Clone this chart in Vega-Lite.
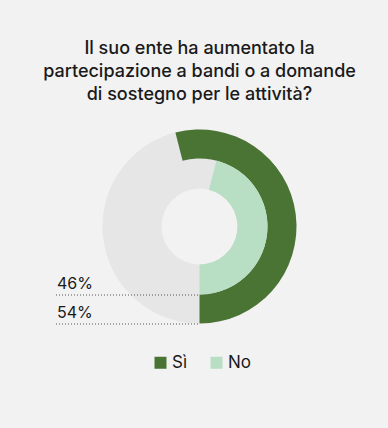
{
  "$schema": "https://vega.github.io/schema/vega-lite/v6.json",
  "autosize": "none",
  "width": 377,
  "height": 213,
  "padding": {"left": 11, "top": 120, "right": 0, "bottom": 95},
  "background": "#f2f2f2",
  "title": {
    "text": ["Il suo ente ha aumentato la", "partecipazione a bandi o a domande", "di sostegno per le attività?"],
    "fontSize": 18,
    "fontWeight": 500,
    "font": "Inter",
    "color": "#1a1a1a",
    "lineHeight": 23,
    "anchor": "middle",
    "offset": 16
  },
  "data": {"values": [
    {"answer": "Sì", "value": 0.54},
    {"answer": "No", "value": 0.46}
  ]},
  "layer": [
    {
      "data": {"values": [{"ring": "background"}]},
      "mark": {"type": "arc", "radius": 97, "radius2": 38, "theta": 0, "theta2": 6.2832, "color": "#e6e6e6"},
      "encoding": {}
    },
    {
      "transform": [{"filter": "datum.answer === 'Sì'"}],
      "mark": {"type": "arc", "radius": 97, "radius2": 68},
      "encoding": {
        "theta": {"field": "value", "type": "quantitative", "stack": null, "scale": {"domain": [0, 1], "range": [3.14159265, -3.14159265]}},
        "theta2": {"datum": 0},
        "color": {"field": "answer", "type": "nominal", "scale": {"domain": ["Sì", "No"], "range": ["#4a7434", "#b8dec4"]}, "legend": {"title": null, "orient": "none", "legendX": 141, "legendY": 234, "direction": "horizontal", "symbolType": "square", "symbolSize": 144, "symbolStrokeWidth": 0, "symbolOpacity": 1, "labelFontSize": 17, "labelFont": "Inter", "labelColor": "#1a1a1a", "labelOffset": 3, "columnPadding": 20}}
      }
    },
    {
      "transform": [{"filter": "datum.answer === 'No'"}],
      "mark": {"type": "arc", "radius": 68, "radius2": 38},
      "encoding": {
        "theta": {"field": "value", "type": "quantitative", "stack": null, "scale": {"domain": [0, 1], "range": [3.14159265, -3.14159265]}},
        "theta2": {"datum": 0},
        "color": {"field": "answer", "type": "nominal"}
      }
    },
    {
      "mark": {"type": "rule", "strokeDash": [1, 2], "stroke": "#555555", "strokeWidth": 1},
      "encoding": {
        "y": {"field": "answer", "type": "nominal", "axis": null, "scale": {"type": "point", "domain": ["No", "Sì"], "range": [175, 204], "padding": 0}},
        "x": {"value": 45},
        "x2": {"value": 188.5}
      }
    },
    {
      "mark": {"type": "text", "align": "left", "baseline": "alphabetic", "dy": -6, "fontSize": 16, "font": "Inter", "color": "#1a1a1a"},
      "encoding": {
        "y": {"field": "answer", "type": "nominal", "axis": null},
        "x": {"value": 46},
        "text": {"field": "value", "type": "quantitative", "format": ".0%"}
      }
    }
  ],
  "config": {"view": {"stroke": null}}
}
